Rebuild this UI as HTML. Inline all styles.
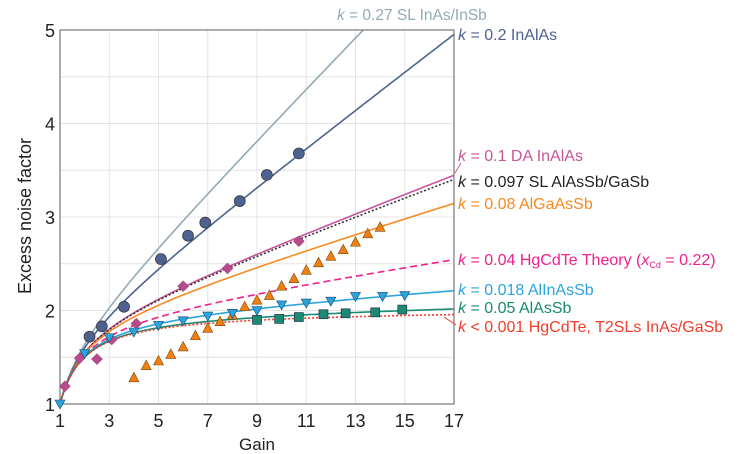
<!DOCTYPE html>
<html><head><meta charset="utf-8"><style>
body{margin:0;background:#fff;}
svg{display:block;font-family:"Liberation Sans",sans-serif;}
</style></head><body>
<svg id="chart" width="738" height="454"></svg>
<script>
const kCurves=[0.27,0.2,0.1,0.097,0.08,0.04,0.018,0.005,0.001];
const curveColors=['#93aab6','#4d6291','#c9559b','#333','#f7891f','#f0208c','#2ba4de','#1a8a72','#f03c2a'];
const curveDash=['','','','2,2','','7,4','','','2,2'];
const curveNames=['k-027-curve','k-02-curve','k-01-curve','k-0097-curve','k-008-curve','k-004-curve','k-0018-curve','k-005-curve','k-0001-curve'];
const circleX=[2.2,2.7,3.6,5.1,6.2,6.9,8.3,9.4,10.7];
const circleY=[1.72,1.83,2.04,2.55,2.8,2.94,3.17,3.45,3.68];
const diamondX=[1.2,1.8,2.5,3.1,4.1,6.0,7.8,10.7];
const diamondY=[1.19,1.49,1.48,1.69,1.86,2.26,2.45,2.74];
const triX=[4.0,4.5,5.0,5.5,6.0,6.5,7.0,7.5,8.0,8.5,9.0,9.5,10.0,10.5,11.0,11.5,12.0,12.5,13.0,13.5,14.0];
const triY=[1.28,1.41,1.46,1.53,1.61,1.73,1.81,1.88,1.95,2.04,2.11,2.16,2.26,2.34,2.43,2.51,2.58,2.65,2.73,2.82,2.89];
const dtriX=[1.0,2.0,3.0,4.0,5.0,6.0,7.0,8.0,9.0,10.0,11.0,12.0,13.0,14.1,15.0];
const dtriY=[1.0,1.54,1.71,1.77,1.84,1.89,1.94,1.97,2.0,2.06,2.08,2.1,2.15,2.15,2.16];
const sqX=[9.0,9.9,10.7,11.7,12.6,13.8,14.9];
const sqY=[1.9,1.91,1.93,1.96,1.97,1.98,2.01];
const xTicks=[1,3,5,7,9,11,13,15,17];
const yTicks=[1,2,3,4,5];

const X0=60,X1=454,Y0=404,Y1=30;
const sx=v=>X0+(v-1)/16*(X1-X0);
const sy=v=>Y0-(v-1)/4*(Y0-Y1);
const svg=document.getElementById('chart');
const NS='http://www.w3.org/2000/svg';
function el(t,a,p){const e=document.createElementNS(NS,t);for(const k in a)e.setAttribute(k,a[k]);(p||svg).appendChild(e);return e;}

const grid=el('g',{});


for(let v=1;v<=17;v+=2){el('line',{x1:sx(v),x2:sx(v),y1:Y1,y2:Y0,stroke:'#e4e4e4'},grid);}
for(let v=1.5;v<5;v+=0.5){el('line',{x1:X0,x2:X1,y1:sy(v),y2:sy(v),stroke:'#e4e4e4'},grid);}

const clip=el('clipPath',{id:'c'});el('rect',{x:X0,y:Y1,width:X1-X0,height:Y0-Y1},clip);
kCurves.forEach((k,i)=>{
  let d='';
  for(let m=1;m<=17.001;m+=0.1){const f=k*m+(1-k)*(2-1/m);d+=(d?'L':'M')+sx(m).toFixed(1)+','+sy(f).toFixed(1);}
  const p=el('path',{d:d,fill:'none',stroke:curveColors[i],'stroke-width':1.6,'stroke-dasharray':curveDash[i],'clip-path':'url(#c)'});
  
  
});

el('rect',{x:X0,y:Y1,width:X1-X0,height:Y0-Y1,fill:'none',stroke:'#777','stroke-width':1.2});

circleX.forEach((x,i)=>{const c=el('circle',{cx:sx(x),cy:sy(circleY[i]),r:5.5,fill:'#4d6291',stroke:'#333','stroke-width':0.7});

});
diamondX.forEach((x,i)=>{const cx=sx(x),cy=sy(diamondY[i]);const c=el('polygon',{points:`${cx},${cy-5.5} ${cx+5.5},${cy} ${cx},${cy+5.5} ${cx-5.5},${cy}`,fill:'#b84b8c',stroke:'#8a3a6a','stroke-width':0.5});

});
triX.forEach((x,i)=>{const cx=sx(x),cy=sy(triY[i]);const c=el('polygon',{points:`${cx},${cy-5.5} ${cx+5},${cy+4} ${cx-5},${cy+4}`,fill:'#f07f12',stroke:'#7a4a10','stroke-width':0.6});

});
dtriX.forEach((x,i)=>{const cx=sx(x),cy=sy(dtriY[i]);const c=el('polygon',{points:`${cx-5},${cy-4} ${cx+5},${cy-4} ${cx},${cy+5}`,fill:'#2ba4de',stroke:'#1a4a6a','stroke-width':0.6});

});
sqX.forEach((x,i)=>{const c=el('rect',{x:sx(x)-4.5,y:sy(sqY[i])-4.5,width:9,height:9,fill:'#1a8a72',stroke:'#224','stroke-width':0.6});

});

xTicks.forEach(v=>{const t=el('text',{x:sx(v),y:427,'font-size':18,'text-anchor':'middle',fill:'#222'});t.textContent=v;

});
yTicks.forEach(v=>{const t=el('text',{x:55,y:sy(v)+7,'font-size':18,'text-anchor':'end',fill:'#222'});t.textContent=v;

});
</script>
<svg width="738" height="454" style="position:absolute;left:0;top:0">
<g font-family="Liberation Sans, sans-serif" font-size="16">
<text x="257" y="450" text-anchor="middle" font-size="17" fill="#222">Gain</text>
<text transform="translate(31,216) rotate(-90)" text-anchor="middle" font-size="18" fill="#222">Excess noise factor</text>
<text x="337" y="20" font-size="15.5" fill="#93aab6"><tspan font-style="italic">k</tspan> = 0.27  SL InAs/InSb</text>
<text x="458" y="40" fill="#4d6291"><tspan font-style="italic">k</tspan> = 0.2  InAlAs</text>
<text x="458" y="161" fill="#c9559b"><tspan font-style="italic">k</tspan> = 0.1 DA InAlAs</text>
<text x="458" y="187" fill="#222"><tspan font-style="italic">k</tspan> = 0.097  SL AlAsSb/GaSb</text>
<text x="458" y="209" fill="#f7891f"><tspan font-style="italic">k</tspan> = 0.08  AlGaAsSb</text>
<text x="458" y="265" fill="#f0208c"><tspan font-style="italic">k</tspan> = 0.04 HgCdTe Theory (<tspan font-style="italic">x</tspan><tspan font-size="9" dy="3">Cd</tspan><tspan dy="-3"> = 0.22)</tspan></text>
<text x="458" y="295" fill="#2ba4de"><tspan font-style="italic">k</tspan> = 0.018 AlInAsSb</text>
<text x="458" y="313" fill="#1a8a72"><tspan font-style="italic">k</tspan> = 0.05 AlAsSb</text>
<text x="458" y="332" fill="#f03c2a"><tspan font-style="italic">k</tspan> &lt; 0.001 HgCdTe, T2SLs InAs/GaSb</text>
<line x1="461" y1="163" x2="455" y2="173" stroke="#c9559b" stroke-width="1"/>
<line x1="456" y1="325" x2="444" y2="317" stroke="#f03c2a" stroke-width="1"/>
</g></svg>
</body></html>
